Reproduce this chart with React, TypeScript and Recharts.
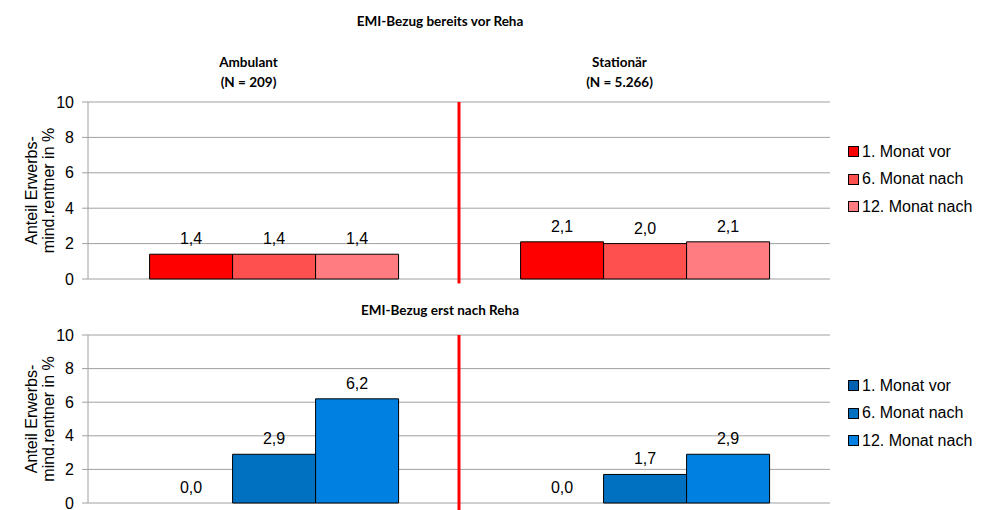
import React from "react"
import {
  BarChart,
  Bar,
  XAxis,
  YAxis,
  CartesianGrid,
  Legend,
  LabelList,
  ReferenceLine,
} from "recharts"

const categories = ["Ambulant", "Stationär"]
const sampleSizes = ["(N = 209)", "(N = 5.266)"]
const seriesNames = ["1. Monat vor", "6. Monat nach", "12. Monat nach"]
const seriesKeys = ["m1", "m6", "m12"]

// EMI-Bezug bereits vor Reha
const beforeMonth1 = [1.4, 2.1]
const beforeMonth6 = [1.4, 2.0]
const beforeMonth12 = [1.4, 2.1]

// EMI-Bezug erst nach Reha
const afterMonth1 = [0.0, 0.0]
const afterMonth6 = [2.9, 1.7]
const afterMonth12 = [6.2, 2.9]

const yTicks = [0, 2, 4, 6, 8, 10]

const redColors = ["#FF0000", "#FF5050", "#FF7C80"]
const blueColors = ["#0062B0", "#0070C0", "#0080E0"]

const topData = categories.map((name, i) => ({
  name,
  m1: beforeMonth1[i],
  m6: beforeMonth6[i],
  m12: beforeMonth12[i],
}))

const bottomData = categories.map((name, i) => ({
  name,
  m1: afterMonth1[i],
  m6: afterMonth6[i],
  m12: afterMonth12[i],
}))

const GRID = "#A0A0A0"
const ARIAL = "'Liberation Sans', Arial, sans-serif"
const TITLE_FONT = "Lato, 'Open Sans', sans-serif"

const fmt = (v: any) => Number(v).toFixed(1).replace(".", ",")

const YLabel = ({ viewBox }: any) => {
  const cy = viewBox.y + viewBox.height / 2
  const x0 = 37
  return (
    <text
      x={x0}
      y={cy}
      transform={`rotate(-90, ${x0}, ${cy})`}
      textAnchor="middle"
      fontSize={16}
      fill="#000"
      fontFamily={ARIAL}
    >
      <tspan x={x0} dy={0}>Anteil Erwerbs-</tspan>
      <tspan x={x0} dy={17}>mind.rentner in %</tspan>
    </text>
  )
}

const HeadingTick = ({ x, payload, index }: any) => (
  <text
    textAnchor="middle"
    fontFamily={TITLE_FONT}
    fontWeight="bold"
    fontSize={13.5}
    fill="#000"
  >
    <tspan x={x - 25} y={67}>{payload.value}</tspan>
    <tspan x={x - 25} y={87}>{sampleSizes[index]}</tspan>
  </text>
)

const ValueLabel = (props: any) => {
  const { x, y, width, value } = props
  if (value === undefined || value === null) return null
  return (
    <text
      x={Number(x) + Number(width) / 2}
      y={Number(y) - 10}
      textAnchor="middle"
      fontSize={16}
      fill="#000"
      fontFamily={ARIAL}
    >
      {fmt(value)}
    </text>
  )
}

// zero-height bars get no label from recharts, so the next bar in the
// group writes the "0,0" of its left neighbour on the baseline
const ZeroLeftLabel = (props: any) => {
  const { x, y, width, height, value } = props
  if (value !== 0) return null
  const base = Number(y) + Number(height)
  return (
    <text
      x={Number(x) - Number(width) / 2}
      y={base - 10}
      textAnchor="middle"
      fontSize={16}
      fill="#000"
      fontFamily={ARIAL}
    >
      {fmt(value)}
    </text>
  )
}

const LegendBox = ({ colors }: { colors: string[] }) => (
  <div style={{ width: 150, paddingLeft: 18, boxSizing: "border-box", fontFamily: ARIAL }}>
    {seriesNames.map((s, i) => (
      <div
        key={s}
        style={{ display: "flex", alignItems: "center", height: 27.5, fontSize: 16, color: "#000" }}
      >
        <span
          style={{
            display: "inline-block",
            width: 9,
            height: 9,
            background: colors[i],
            border: "1px solid #000",
            marginRight: 3,
          }}
        />
        {s}
      </div>
    ))}
  </div>
)

interface PanelProps {
  data: any[]
  colors: string[]
  height: number
  marginTop: number
  marginBottom: number
  legendTop: number
  headings?: boolean
  lineBottom: number
}

function Panel({ data, colors, height, marginTop, marginBottom, legendTop, headings, lineBottom }: PanelProps) {
  return (
    <BarChart
      width={992}
      height={height}
      data={data}
      margin={{ top: marginTop, right: 12, left: 0, bottom: marginBottom }}
      barCategoryGap="16.6%"
      barGap={0}
    >
      <CartesianGrid vertical={false} stroke={GRID} />
      {headings ? (
        <XAxis
          dataKey="name"
          orientation="top"
          height={40}
          axisLine={false}
          tickLine={false}
          tick={<HeadingTick />}
          interval={0}
        />
      ) : (
        <XAxis dataKey="name" hide />
      )}
      <YAxis
        domain={[0, 10]}
        ticks={yTicks}
        interval={0}
        width={88}
        axisLine={{ stroke: GRID }}
        tickLine={{ stroke: GRID }}
        tickSize={6}
        tickMargin={8}
        tick={{ fill: "#000", fontSize: 16, fontFamily: ARIAL }}
        label={{ content: <YLabel /> }}
      />
      <Legend
        layout="vertical"
        align="right"
        verticalAlign="top"
        wrapperStyle={{ top: legendTop }}
        content={() => <LegendBox colors={colors} />}
      />
      <ReferenceLine
        segment={[
          { x: categories[1], y: 10 },
          { x: categories[1], y: lineBottom },
        ]}
        position="start"
        ifOverflow="visible"
        stroke="#FF0000"
        strokeWidth={3}
      />
      {seriesKeys.map((k, i) => (
        <Bar
          key={k}
          dataKey={k}
          name={seriesNames[i]}
          fill={colors[i]}
          stroke="#000"
          strokeWidth={1}
          isAnimationActive={false}
        >
          <LabelList dataKey={k} content={<ValueLabel />} />
          {i > 0 && <LabelList dataKey={seriesKeys[i - 1]} content={<ZeroLeftLabel />} />}
        </Bar>
      ))}
    </BarChart>
  )
}

const titleStyle: React.CSSProperties = {
  position: "absolute",
  left: 240,
  width: 400,
  textAlign: "center",
  fontFamily: TITLE_FONT,
  fontWeight: "bold",
  fontSize: 13.5,
  color: "#000",
  lineHeight: "16px",
}

export default function App() {
  return (
    <div
      style={{
        position: "absolute",
        left: 0,
        top: 0,
        width: 992,
        height: 510,
        background: "#fff",
        overflow: "hidden",
        fontFamily: ARIAL,
      }}
    >
      <div style={{ ...titleStyle, top: 13 }}>EMI-Bezug bereits vor Reha</div>
      <div style={{ ...titleStyle, top: 302 }}>EMI-Bezug erst nach Reha</div>
      <div style={{ position: "absolute", left: 0, top: 0 }}>
        <Panel
          data={topData}
          colors={redColors}
          height={290}
          marginTop={62}
          marginBottom={11}
          legendTop={138}
          headings
          lineBottom={-0.25}
        />
      </div>
      <div style={{ position: "absolute", left: 0, top: 290 }}>
        <Panel
          data={bottomData}
          colors={blueColors}
          height={220}
          marginTop={45}
          marginBottom={7}
          legendTop={82}
          lineBottom={-0.5}
        />
      </div>
    </div>
  )
}
